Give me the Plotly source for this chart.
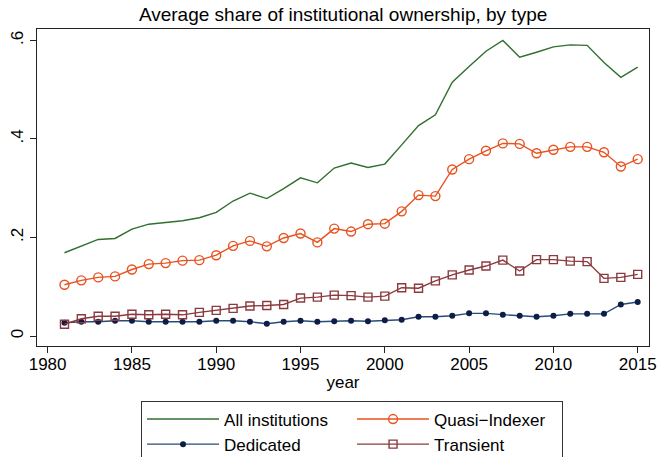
import plotly.graph_objects as go

years = list(range(1981, 2016))

all_inst = [0.169, 0.182, 0.196, 0.198, 0.217, 0.227, 0.231, 0.234, 0.240, 0.251,
            0.274, 0.290, 0.279, 0.299, 0.321, 0.311, 0.341, 0.351, 0.342, 0.349,
            0.388, 0.427, 0.449, 0.515, 0.547, 0.578, 0.600, 0.566, 0.576, 0.587,
            0.591, 0.590, 0.555, 0.525, 0.546]

quasi = [0.104, 0.113, 0.119, 0.121, 0.135, 0.146, 0.148, 0.153, 0.154, 0.164,
         0.183, 0.193, 0.182, 0.199, 0.208, 0.190, 0.218, 0.212, 0.227, 0.228,
         0.253, 0.286, 0.284, 0.338, 0.359, 0.376, 0.391, 0.390, 0.371, 0.378,
         0.384, 0.384, 0.373, 0.344, 0.359]

dedicated = [0.027, 0.029, 0.029, 0.031, 0.031, 0.029, 0.029, 0.029, 0.029, 0.031,
             0.031, 0.029, 0.025, 0.029, 0.031, 0.029, 0.030, 0.031, 0.030, 0.032,
             0.033, 0.039, 0.039, 0.041, 0.046, 0.046, 0.043, 0.041, 0.039, 0.041,
             0.045, 0.045, 0.045, 0.064, 0.069]

transient = [0.024, 0.035, 0.040, 0.040, 0.044, 0.043, 0.044, 0.043, 0.048, 0.052,
             0.056, 0.061, 0.062, 0.064, 0.077, 0.079, 0.083, 0.082, 0.079, 0.081,
             0.098, 0.097, 0.112, 0.124, 0.134, 0.142, 0.154, 0.132, 0.155, 0.155,
             0.152, 0.151, 0.117, 0.119, 0.125]

x_ticks = [1980, 1985, 1990, 1995, 2000, 2005, 2010, 2015]
y_ticks = [0, 0.2, 0.4, 0.6]
y_tick_labels = ["0", ".2", ".4", ".6"]

GREEN = "#2f6f2f"
ORANGE = "#e8521f"
NAVY_LINE = "#2b4a75"
NAVY_MARK = "#0d1d45"
MAROON = "#8b3a3f"

FONT = "Liberation Sans, Arial, sans-serif"

fig = go.Figure()
fig.add_trace(go.Scatter(x=years, y=all_inst, mode="lines", name="All institutions",
                         line=dict(color=GREEN, width=1.4)))
fig.add_trace(go.Scatter(x=years, y=quasi, mode="lines+markers", name="Quasi\u2212Indexer",
                         line=dict(color=ORANGE, width=1.4),
                         marker=dict(symbol="circle-open", size=9, color=ORANGE,
                                     line=dict(width=1.4, color=ORANGE))))
fig.add_trace(go.Scatter(x=years, y=dedicated, mode="lines+markers", name="Dedicated",
                         line=dict(color=NAVY_LINE, width=1.4),
                         marker=dict(symbol="circle", size=6, color=NAVY_MARK)))
fig.add_trace(go.Scatter(x=years, y=transient, mode="lines+markers", name="Transient",
                         line=dict(color=MAROON, width=1.4),
                         marker=dict(symbol="square-open", size=8, color=MAROON,
                                     line=dict(width=1.4, color=MAROON))))

fig.update_layout(
    template="none",
    width=659, height=457,
    margin=dict(l=37, r=10, t=29, b=111, autoexpand=False),
    paper_bgcolor="white", plot_bgcolor="white",
    font=dict(family=FONT, size=17, color="black"),
    title=dict(text="Average share of institutional ownership, by type",
               x=0.5206, xanchor="center", y=0.969, yanchor="middle",
               font=dict(size=19, color="black")),
    xaxis=dict(range=[1979.37, 2015.67], tickvals=x_ticks, ticks="outside", ticklen=6,
               tickcolor="#222", showgrid=False, zeroline=False, showline=True,
               linecolor="#222", linewidth=1, mirror=True, automargin=False,
               ticklabelstandoff=-3,
               title=dict(text="year", standoff=2, font=dict(size=17)),
               tickfont=dict(size=17)),
    yaxis=dict(range=[-0.0203, 0.6232], tickvals=y_ticks, ticktext=y_tick_labels,
               ticks="outside", ticklen=6, tickcolor="#222", tickangle=-90,
               showgrid=False, zeroline=False, showline=True, linecolor="#222",
               linewidth=1, mirror=True, automargin=False, tickfont=dict(size=17)),
    legend=dict(orientation="h", x=0.17, xanchor="left", y=-0.172, yanchor="top",
                bordercolor="#333", borderwidth=1, entrywidth=123, itemwidth=72,
                font=dict(size=17), tracegroupgap=0, bgcolor="white"),
    showlegend=True,
)

fig.write_html("out.html",
               config={"displayModeBar": False},
               post_script="document.body.style.margin='0';document.body.style.padding='0';")
